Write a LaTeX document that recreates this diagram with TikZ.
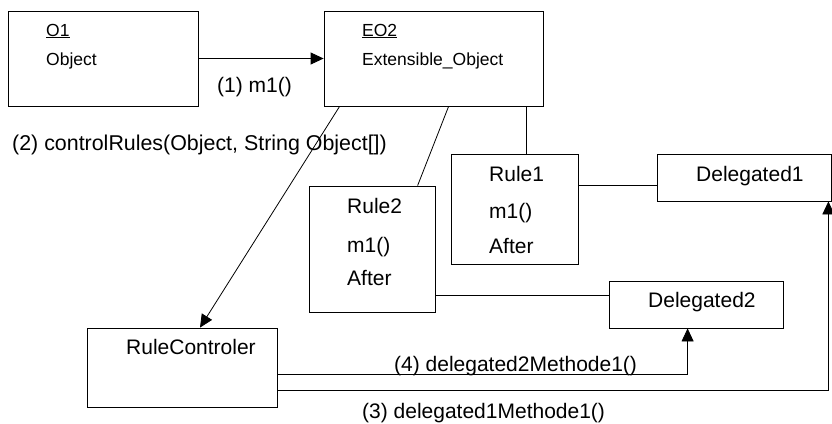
\documentclass[tikz,border=0pt]{standalone}
\usepackage{fontspec}
\setmainfont{Liberation Sans}
\usetikzlibrary{arrows.meta,calc}
\begin{document}
\begin{tikzpicture}[x=1pt,y=-1pt,
  box/.style={draw,line width=0.8pt,inner sep=0pt,fill=white},
  txt/.style={inner sep=0pt,anchor=base west,font=\fontsize{21}{25}\selectfont},
  small/.style={inner sep=0pt,anchor=base west,font=\fontsize{17.5}{20}\selectfont},
  ln/.style={line width=0.8pt},
  arr/.style={line width=0.8pt,-{Triangle[length=13pt,width=12pt]}}]
\useasboundingbox (0,0) rectangle (832,423);
% boxes
\node[box,minimum width=190pt,minimum height=95pt] (O1) at (103,58.5) {};
\node[box,minimum width=219pt,minimum height=95pt] (EO2) at (433.5,58.5) {};
\node[box,minimum width=190pt,minimum height=79pt] (RC) at (182,367.5) {};
\node[box,minimum width=126pt,minimum height=126pt] (R2) at (372,249) {};
\node[box,minimum width=127pt,minimum height=110pt] (R1) at (514.5,209) {};
\node[box,minimum width=174pt,minimum height=47pt] (D1) at (744,177.5) {};
\node[box,minimum width=174pt,minimum height=47pt] (D2) at (696,304.5) {};
% box texts
\node[small] (tO1) at (46,36) {\underline{O1}};
\node[small] (tO1b) at (46,65) {Object};
\node[small] (tEO2) at (362,36) {\underline{EO2}};
\node[small] (tEO2b) at (362,65) {Extensible\_Object};
\node[txt] (tRC) at (126,354) {RuleControler};
\node[txt] (tR2a) at (347,213) {Rule2};
\node[txt] (tR2b) at (347,252) {m1()};
\node[txt] (tR2c) at (347,285) {After};
\node[txt] (tR1a) at (489,181) {Rule1};
\node[txt] (tR1b) at (489,218) {m1()};
\node[txt] (tR1c) at (489,253) {After};
\node[txt] (tD1) at (696,181) {Delegated1};
\node[txt] (tD2) at (648,307) {Delegated2};
% connectors
\draw[arr] (O1.east) -- (EO2.west);
\draw[arr] ($(EO2.south west)+(16,0)$) -- ($(RC.north)+(18,0)$);
\draw[ln] ($(EO2.south west)+(125,0)$) -- ($(R2.north west)+(109,0)$);
\draw[ln] ($(EO2.south west)+(203,0)$) -- ($(R1.north west)+(76,0)$);
\draw[ln] ($(R1.north east)+(0,32)$) -- ($(D1.north west)+(0,32)$);
\draw[ln] ($(R2.north east)+(0,110)$) -- ($(D2.north west)+(0,15)$);
\draw[arr] ($(RC.north east)+(0,47)$) -| ($(D2.south west)+(79,0)$);
\draw[arr] ($(RC.north east)+(0,63)$) -| ($(D1.south east)+(-3,0)$);
% labels
\node[txt] (l1) at (217,92) {(1) m1()};
\node[txt,font=\fontsize{21.4}{25}\selectfont] (l2) at (12,150) {(2) controlRules(Object, String Object[])};
\node[txt] (l4) at (394,371) {(4) delegated2Methode1()};
\node[txt] (l3) at (362,418) {(3) delegated1Methode1()};
\end{tikzpicture}
\end{document}
